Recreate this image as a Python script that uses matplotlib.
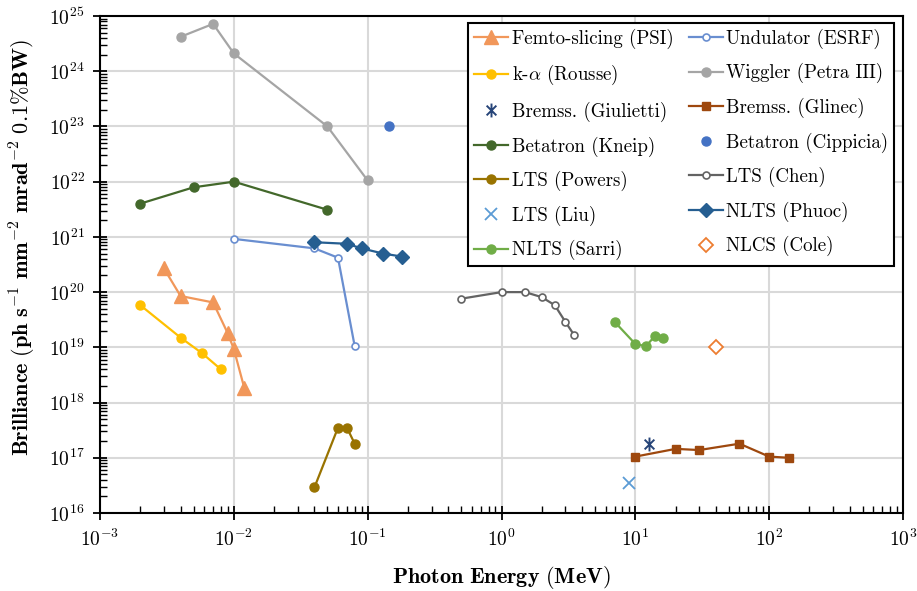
import numpy as np
import matplotlib
matplotlib.use('Agg')
from matplotlib import pyplot as plt
from matplotlib.path import Path
from matplotlib.ticker import LogLocator, NullFormatter

plt.rcParams['font.family'] = 'cmr10'
plt.rcParams['mathtext.fontset'] = 'cm'
plt.rcParams['axes.formatter.use_mathtext'] = True
plt.rcParams['axes.unicode_minus'] = False

# photon energy (MeV) and brilliance for each source
femto_x = [0.003, 0.004, 0.007, 0.009, 0.010, 0.012]
femto_y = [2.7e20, 8.5e19, 6.5e19, 1.8e19, 9.3e18, 1.8e18]

undulator_x = [0.01, 0.04, 0.06, 0.08]
undulator_y = [9.2e20, 6.2e20, 4.2e20, 1.05e19]

kalpha_x = [0.002, 0.004, 0.0058, 0.008]
kalpha_y = [5.8e19, 1.5e19, 7.8e18, 4.0e18]

wiggler_x = [0.004, 0.007, 0.01, 0.05, 0.1]
wiggler_y = [4.2e24, 7.2e24, 2.1e24, 1.0e23, 1.05e22]

giulietti_x = [12.7]
giulietti_y = [1.8e17]

glinec_x = [10, 20, 30, 60, 100, 140]
glinec_y = [1.05e17, 1.45e17, 1.38e17, 1.8e17, 1.05e17, 1.0e17]

kneip_x = [0.002, 0.005, 0.01, 0.05]
kneip_y = [4.0e21, 7.9e21, 1.0e22, 3.1e21]

cippicia_x = [0.145]
cippicia_y = [1.0e23]

powers_x = [0.04, 0.06, 0.07, 0.08]
powers_y = [2.9e16, 3.5e17, 3.5e17, 1.8e17]

chen_x = [0.5, 1.0, 1.5, 2.0, 2.5, 3.0, 3.5]
chen_y = [7.6e19, 1.0e20, 1.0e20, 8.1e19, 5.8e19, 2.9e19, 1.65e19]

liu_x = [9.0]
liu_y = [3.5e16]

phuoc_x = [0.04, 0.07, 0.09, 0.13, 0.18]
phuoc_y = [8.0e20, 7.5e20, 6.2e20, 5.0e20, 4.4e20]

sarri_x = [7, 10, 12, 14, 16]
sarri_y = [2.9e19, 1.15e19, 1.05e19, 1.6e19, 1.5e19]

cole_x = [40]
cole_y = [1.0e19]

# x with a vertical bar, like the spreadsheet "star" marker
star = Path([(-0.7, -0.7), (0.7, 0.7), (-0.7, 0.7), (0.7, -0.7), (0, -1), (0, 1)],
            [Path.MOVETO, Path.LINETO, Path.MOVETO, Path.LINETO, Path.MOVETO, Path.LINETO])

fig = plt.figure(figsize=(9.17, 5.91), dpi=100)
ax = fig.add_axes([100 / 917, 78 / 591, 803 / 917, 497 / 591])

lw = 1.6
h = {}
h['femto'], = ax.plot(femto_x, femto_y, '-^', color='#F1975A', lw=lw, ms=9.5, label='Femto-slicing (PSI)')
h['und'], = ax.plot(undulator_x, undulator_y, '-o', color='#698ED0', lw=lw, ms=5, mfc='white', mew=1.2,
                    label='Undulator (ESRF)')
h['ka'], = ax.plot(kalpha_x, kalpha_y, '-o', color='#FFC000', lw=lw, ms=6.5, label=r'k-$\alpha$ (Rousse)')
h['wig'], = ax.plot(wiggler_x, wiggler_y, '-o', color='#A5A5A5', lw=lw, ms=6.5, label='Wiggler (Petra III)')
h['giu'], = ax.plot(giulietti_x, giulietti_y, ls='none', marker=star, color='#264478', ms=10, mew=1.4,
                    label='Bremss. (Giulietti)')
h['gli'], = ax.plot(glinec_x, glinec_y, '-s', color='#9E480E', lw=lw, ms=6, label='Bremss. (Glinec)')
h['kne'], = ax.plot(kneip_x, kneip_y, '-o', color='#43682B', lw=lw, ms=6.5, label='Betatron (Kneip)')
h['cip'], = ax.plot(cippicia_x, cippicia_y, 'o', color='#4472C4', ms=6.5, label='Betatron (Cippicia)')
h['pow'], = ax.plot(powers_x, powers_y, '-o', color='#997300', lw=lw, ms=6.5, label='LTS (Powers)')
h['che'], = ax.plot(chen_x, chen_y, '-o', color='#636363', lw=lw, ms=5, mfc='white', mew=1.2,
                    label='LTS (Chen)')
h['liu'], = ax.plot(liu_x, liu_y, 'x', color='#5B9BD5', ms=9, mew=1.3, label='LTS (Liu)')
h['phu'], = ax.plot(phuoc_x, phuoc_y, '-D', color='#255E91', lw=lw, ms=7, label='NLTS (Phuoc)')
h['sar'], = ax.plot(sarri_x, sarri_y, '-o', color='#70AD47', lw=lw, ms=6.5, label='NLTS (Sarri)')
h['col'], = ax.plot(cole_x, cole_y, 'D', color='#ED7D31', ms=7, mfc='white', mew=1.3, label='NLCS (Cole)')

ax.set_xscale('log')
ax.set_yscale('log')
ax.set_xlim(1e-3, 1e3)
ax.set_ylim(1e16, 1e25)
ax.xaxis.set_major_locator(LogLocator(base=10, numticks=20))
ax.yaxis.set_major_locator(LogLocator(base=10, numticks=20))
ax.xaxis.set_minor_locator(LogLocator(base=10, subs=np.arange(2, 10), numticks=20))
ax.yaxis.set_minor_locator(LogLocator(base=10, subs=np.arange(2, 10), numticks=20))
ax.xaxis.set_minor_formatter(NullFormatter())
ax.yaxis.set_minor_formatter(NullFormatter())

ax.grid(True, which='major', color='#D9D9D9', lw=1.5)
ax.set_axisbelow(True)
for s in ax.spines.values():
    s.set_linewidth(1.5)
    s.set_color('black')
ax.tick_params(which='major', direction='inout', length=10, width=1.3, labelsize=14, pad=6)
ax.tick_params(which='minor', direction='in', length=5, width=1.0)

ax.set_xlabel(r'$\mathbf{Photon\ Energy\ (MeV)}$', fontsize=16, labelpad=10)
ax.set_ylabel(r'$\mathbf{Brilliance\ (ph\ s^{-1}\ mm^{-2}\ mrad^{-2}\ 0.1\%BW)}$', fontsize=16)
ax.yaxis.set_label_coords(-0.077, 0.535)

# row-wise reading order, matplotlib fills columns first
order = ['femto', 'ka', 'giu', 'kne', 'pow', 'liu', 'sar',
         'und', 'wig', 'gli', 'cip', 'che', 'phu', 'col']
handles = [h[k] for k in order]
leg = ax.legend(handles, [x.get_label() for x in handles], ncol=2, loc='upper right',
                bbox_to_anchor=(0.989, 0.986), borderaxespad=0,
                fontsize=13.6, frameon=True, fancybox=False, framealpha=1, edgecolor='black',
                handlelength=1.8, handletextpad=0.2, columnspacing=0.8, labelspacing=0.76,
                borderpad=0.3)
leg.get_frame().set_linewidth(1.5)

fig.savefig('out.png', dpi=100)
